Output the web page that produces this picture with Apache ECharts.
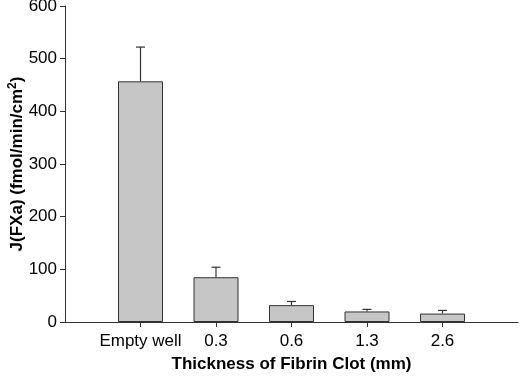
<!DOCTYPE html>
<html>
<head>
<meta charset="utf-8">
<script src="https://cdn.jsdelivr.net/npm/echarts@6/dist/echarts.min.js"></script>
<style>
    html, body { margin: 0; padding: 0; background: #fff; }
    #chart1 { width: 520px; height: 380px; }
</style>
</head>
<body>
<div id="chart1"></div>
<script>
// data
var categories = ['', 'Empty well', '0.3', '0.6', '1.3', '2.6', ''];
var means = [457, 85, 32, 20, 16];
var errors = [65, 19, 7, 4, 6];
var yTicks = [0, 100, 200, 300, 400, 500, 600];

function init() {
    var mychart = echarts.init(document.getElementById("chart1"));
    loadchart1(mychart);
}

function loadchart1(chart) {
    // pad the empty end slots so bars sit on points 1..5
    var barData = ['-'].concat(means).concat(['-']);
    var errData = means.map(function (v, i) {
        return [i + 1, v, v + errors[i]];
    });
    var font = 'Liberation Sans, Arial, sans-serif';
    var option = {
        animation: false,
        textStyle: { fontFamily: font },
        grid: {
            left: 65,
            right: 2,
            top: 6,
            bottom: 58,
            containLabel: false,
            outerBoundsMode: 'none'
        },
        xAxis: {
            type: 'category',
            data: categories,
            boundaryGap: false,
            name: 'Thickness of Fibrin Clot (mm)',
            nameLocation: 'middle',
            nameGap: 34,
            nameMoveOverlap: false,
            nameTextStyle: { color: '#000', fontSize: 17, fontWeight: 'bold' },
            axisLine: { lineStyle: { color: '#333', width: 1 } },
            axisTick: {
                length: 5,
                lineStyle: { color: '#333' },
                interval: function (idx, val) { return val !== ''; }
            },
            axisLabel: {
                color: '#000',
                fontSize: 17,
                margin: 11,
                interval: 0
            },
            splitLine: { show: false }
        },
        yAxis: {
            type: 'value',
            min: yTicks[0],
            max: yTicks[yTicks.length - 1],
            interval: 100,
            name: '{a|J(FXa) (fmol/min/cm}{s|2}{a|)}',
            nameLocation: 'middle',
            nameGap: 38,
            nameMoveOverlap: false,
            nameTextStyle: {
                rich: {
                    a: { color: '#000', fontSize: 17, fontWeight: 'bold', fontFamily: font },
                    s: { color: '#000', fontSize: 12, fontWeight: 'bold', fontFamily: font, padding: [0, 0, 8, 0] }
                }
            },
            axisLine: { show: true, lineStyle: { color: '#333', width: 1 } },
            axisTick: { show: true, length: 5, lineStyle: { color: '#333' } },
            axisLabel: { color: '#000', fontSize: 17, margin: 8 },
            splitLine: { show: false }
        },
        series: [
            {
                type: 'custom',
                z: 1,
                data: errData,
                renderItem: function (params, api) {
                    var top = api.coord([api.value(0), api.value(2)]);
                    var base = api.coord([api.value(0), api.value(1)]);
                    var cap = 4.5;
                    var st = { stroke: '#333', lineWidth: 1.2 };
                    return {
                        type: 'group',
                        children: [
                            { type: 'line', shape: { x1: top[0], y1: base[1], x2: top[0], y2: top[1] }, style: st },
                            { type: 'line', shape: { x1: top[0] - cap, y1: top[1], x2: top[0] + cap, y2: top[1] }, style: st }
                        ]
                    };
                }
            },
            {
                type: 'bar',
                z: 2,
                data: barData,
                barWidth: 45,
                itemStyle: {
                    color: '#c6c6c6',
                    borderColor: '#333',
                    borderWidth: 1
                }
            }
        ]
    };
    chart.setOption(option);
}

init();
</script>
</body>
</html>
